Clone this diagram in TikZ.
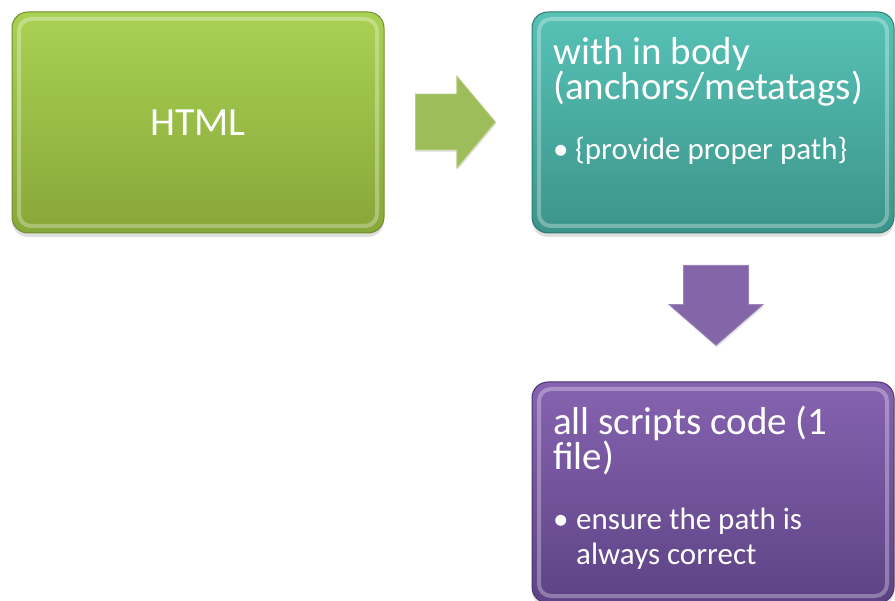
\documentclass[tikz,border=0pt]{standalone}
\usepackage{fontspec}
\setmainfont{Carlito}
\usepackage{tikz}
\usetikzlibrary{positioning,shapes.arrows,shadows}

\definecolor{leafTop}{HTML}{A9D153}
\definecolor{leafBot}{HTML}{87A739}
\definecolor{leafEdge}{HTML}{718C2E}
\definecolor{tealTop}{HTML}{57C2B7}
\definecolor{tealBot}{HTML}{3C9489}
\definecolor{tealEdge}{HTML}{2E7870}
\definecolor{plumTop}{HTML}{8663B0}
\definecolor{plumBot}{HTML}{5D4385}
\definecolor{plumEdge}{HTML}{4A346B}
\definecolor{leafArrow}{HTML}{9DBD5A}
\definecolor{plumArrow}{HTML}{8366A8}

\tikzset{
	card/.style={rectangle, rounded corners=16pt, minimum height=221pt,
		line width=1pt, text=white,
		drop shadow={shadow xshift=0pt, shadow yshift=-4pt, opacity=0.25},
		path picture={\draw[white, opacity=0.3, line width=4pt, rounded corners=12pt]
			([shift={(7pt,-7pt)}]path picture bounding box.north west) rectangle
			([shift={(-7pt,7pt)}]path picture bounding box.south east);}},
	blockarrow/.style={single arrow, inner xsep=0pt, line width=0.8pt, anchor=tail,
		drop shadow={shadow xshift=1pt, shadow yshift=-2pt, opacity=0.2}},
	heading/.style={inner sep=0pt, text=white, align=left,
		font=\fontsize{39}{35}\selectfont},
	point/.style={inner sep=0pt, text=white, align=left,
		font=\fontsize{31}{35}\selectfont}
}

\begin{document}
\begin{tikzpicture}[x=1pt,y=-1pt]
	\useasboundingbox (0,0) rectangle (895,601);

	% the three boxes
	\node [card, minimum width=372pt, top color=leafTop, bottom color=leafBot,
		draw=leafEdge, font=\fontsize{40}{44}\selectfont] (html) at (198,122.5) {HTML};
	\node [card, minimum width=362pt, top color=tealTop, bottom color=tealBot,
		draw=tealEdge] (body) at (713,122.5) {};
	\node [card, minimum width=362pt, top color=plumTop, bottom color=plumBot,
		draw=plumEdge] (scripts) at (713,492.5) {};

	% arrows between them (shaft width comes from inner ysep)
	\node [blockarrow, fill=leafArrow, draw=leafArrow!75!white,
		inner ysep=27.5pt, minimum height=80pt,
		single arrow head extend=18pt, single arrow tip angle=100] (step1) at (415,122) {};
	\node [blockarrow, fill=plumArrow, draw=plumArrow!80!white, rotate=-90,
		inner ysep=32pt, minimum height=80pt,
		single arrow head extend=14.5pt, single arrow tip angle=98] (step2) at (716,265) {};

	% texts, anchored on their last line
	\node [heading, anchor=base west] (bodyhead) at (553,100) {with in body\\(anchors/metatags)};
	\node [point, anchor=base west] (bodypoint) at (553,160)
		{\makebox[22pt][l]{\textbullet}\{provide proper path\}};
	\node [heading, anchor=base west] (scriptshead) at (553,470) {all scripts code (1\\file)};
	\node [point, anchor=base west] (scriptspoint) at (553,565)
		{\makebox[23pt][l]{\textbullet}ensure the path is\\\hspace*{23pt}always correct};
\end{tikzpicture}
\end{document}
